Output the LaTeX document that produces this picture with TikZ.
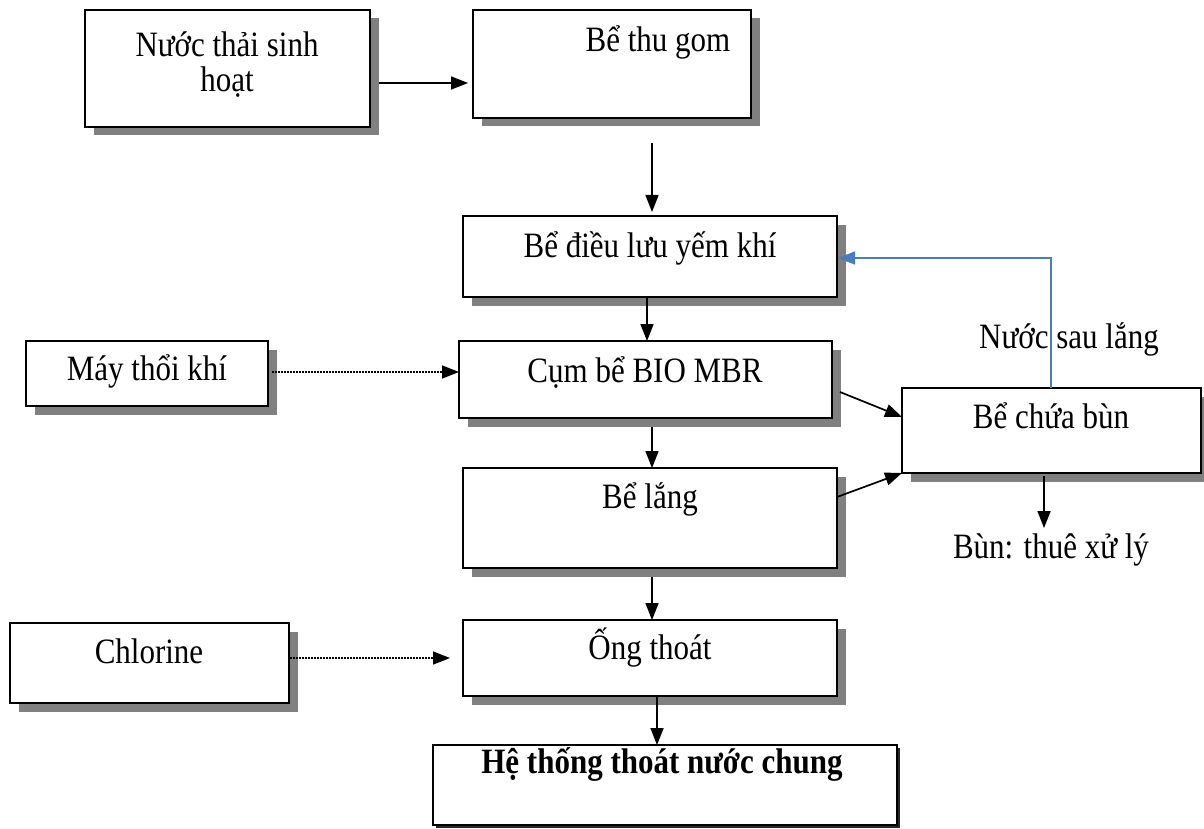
\documentclass[tikz,border=0pt]{standalone}
\usepackage{fontspec}
\setmainfont{Liberation Serif}
\usetikzlibrary{arrows.meta,shadows}
\definecolor{shadowgray}{HTML}{808080}
\definecolor{recycle}{HTML}{4A7EBB}
% the lettering is drawn slightly taller than wide
\newcommand\tall[1]{\scalebox{1}[1.15]{#1}}
\begin{document}
\begin{tikzpicture}[x=1pt,y=-1pt,
  tank/.style={draw, line width=2.2pt, fill=white, inner sep=0pt, outer sep=0pt, anchor=north west,
    drop shadow={shadow xshift=8.5pt, shadow yshift=-8.5pt, fill=shadowgray, opacity=1}},
  outlet/.style={draw, line width=2.2pt, fill=white, inner sep=0pt, outer sep=0pt, anchor=north west,
    drop shadow={shadow xshift=3pt, shadow yshift=-3pt, fill=black!85, opacity=1}},
  txt/.style={font=\fontsize{31}{29}\selectfont, inner sep=0pt, anchor=base},
  arr/.style={line width=1.7pt, -{Triangle[length=17pt,width=13pt]}},
  dotarr/.style={line width=1.6pt, dash pattern=on 1.6pt off 1.4pt, -{Triangle[length=17pt,width=13pt]}},
  bluearr/.style={recycle, line width=1.8pt, -{Triangle[length=17pt,width=13pt]}}]
\useasboundingbox (0,0) rectangle (1204,829);

% tanks and sources
\node[tank, minimum width=285pt, minimum height=117pt] (b1) at (85,10) {};
\node[tank, minimum width=278pt, minimum height=108pt] (b2) at (473,10) {};
\node[tank, minimum width=374pt, minimum height=81pt] (b3) at (463,216) {};
\node[tank, minimum width=373pt, minimum height=77pt] (b4) at (459,341) {};
\node[tank, minimum width=299pt, minimum height=85pt] (b5) at (902,388) {};
\node[tank, minimum width=374pt, minimum height=100pt] (b6) at (463,468) {};
\node[tank, minimum width=374pt, minimum height=76pt] (b7) at (463,620) {};
\node[outlet, minimum width=464pt, minimum height=80pt] (b8) at (433,745) {};
\node[tank, minimum width=242pt, minimum height=65pt] (b9) at (26,341) {};
\node[tank, minimum width=279pt, minimum height=80pt] (b10) at (10,623) {};

% labels
\node[txt, align=center] (t1) at (227,92) {\tall{Nước thải sinh}\\[6pt]\tall{hoạt}};
\node[txt] (t2) at (658,52) {\tall{Bể thu gom}};
\node[txt] (t3) at (650,257) {\tall{Bể điều lưu yếm khí}};
\node[txt] (t4) at (645,382) {\tall{Cụm bể BIO MBR}};
\node[txt] (t5) at (1051,428) {\tall{Bể chứa bùn}};
\node[txt] (t6) at (650,508) {\tall{Bể lắng}};
\node[txt] (t7) at (650,659) {\tall{Ống thoát}};
\node[txt, font=\fontsize{31}{29}\selectfont\bfseries] (t8) at (662,773) {\tall{Hệ thống thoát nước chung}};
\node[txt] (t9) at (147,380) {\tall{Máy thổi khí}};
\node[txt] (t10) at (149,663) {\tall{Chlorine}};
\node[txt] (out) at (1051,558) {\tall{Bùn: thuê xử lý}};
\node[txt] (lbl) at (1069,348) {\tall{Nước sau lắng}};

% main flow
\draw[arr] ([shift={(9,14.5)}]b1.east) -- ([shift={(-5,19)}]b2.west);
\draw[arr] ([shift={(40,25)}]b2.south) -- ([shift={(2,-4)}]b3.north);
\draw[arr] ([shift={(-3,0)}]b3.south) -- ([shift={(1.5,0)}]b4.north);
\draw[arr] ([shift={(6.5,9)}]b4.south) -- ([shift={(2,0)}]b6.north);
\draw[arr] ([shift={(2,9)}]b6.south) -- ([shift={(2,0)}]b7.north);
\draw[arr] ([shift={(7,0)}]b7.south) -- ([shift={(-8,0)}]b8.north);

% sludge lines
\draw[arr] ([shift={(8,12.5)}]b4.east) -- ([shift={(0,-13.5)}]b5.west);
\draw[arr] ([shift={(0,-21)}]b6.east) -- (b5.south west);
\coordinate (sludge) at ([shift={(-7.5,55)}]b5.south);
\draw[arr] ([shift={(-7.5,3)}]b5.south) -- (sludge);

% air and chlorine dosing
\draw[dotarr] ([shift={(4,-1.5)}]b9.east) -- ([shift={(0,-7.5)}]b4.west);
\draw[dotarr] ([shift={(1,-5)}]b10.east) -- ([shift={(-13,0)}]b7.west);

% return water
\coordinate (ret) at ([shift={(1,1.5)}]b3.east);
\coordinate (riser) at ([xshift=-0.5pt]b5.north);
\draw[bluearr] (riser) -- (riser |- ret) -- (ret);
\end{tikzpicture}
\end{document}
